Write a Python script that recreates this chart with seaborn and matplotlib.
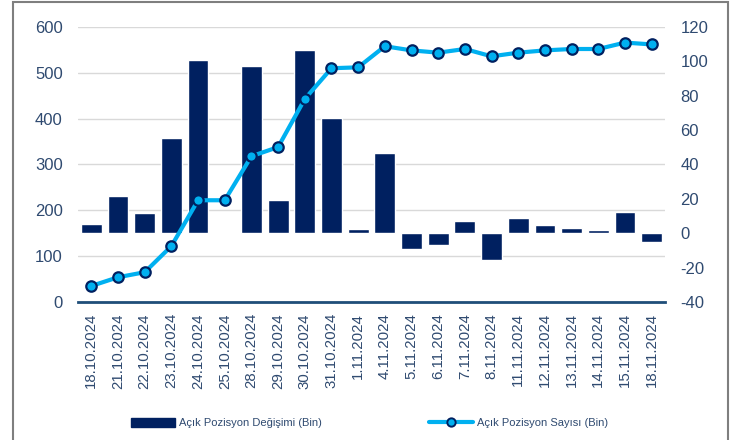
import numpy as np
import pandas as pd
import matplotlib
matplotlib.use("Agg")
import matplotlib.pyplot as plt
import seaborn as sns
from matplotlib.patches import Rectangle, Patch
from matplotlib.lines import Line2D

# === Dados ===
dates = ["18.10.2024", "21.10.2024", "22.10.2024", "23.10.2024", "24.10.2024",
         "25.10.2024", "28.10.2024", "29.10.2024", "30.10.2024", "31.10.2024",
         "1.11.2024", "4.11.2024", "5.11.2024", "6.11.2024", "7.11.2024",
         "8.11.2024", "11.11.2024", "12.11.2024", "13.11.2024", "14.11.2024",
         "15.11.2024", "18.11.2024"]
pos_change = [5.6, 21.4, 11.8, 55.3, 101.0, 0.0, 97.4, 19.3, 106.5, 67.2,
              2.7, 46.4, -8.9, -6.8, 7.3, -15.8, 8.7, 5.0, 2.9, 2.1, 12.6, -5.2]
pos_count = [35, 54, 65, 122, 222, 222, 318, 338, 443, 510,
             512, 558, 549, 544, 552, 536, 544, 549, 552, 552, 566, 562]

label_bar = "Açık Pozisyon Değişimi (Bin)"
label_line = "Açık Pozisyon Sayısı (Bin)"

df = pd.DataFrame({"date": dates, "change": pos_change, "count": pos_count})

navy = "#002060"
cyan = "#00B0F0"
txt = "#2F4A70"

sns.set_style("white")
plt.rcParams["font.family"] = ["Liberation Sans", "DejaVu Sans"]
plt.rcParams["axes.unicode_minus"] = False

fig = plt.figure(figsize=(7.46, 4.40), dpi=100)
ax1 = fig.add_axes([78 / 746, 1 - 302 / 440, (665 - 78) / 746, 275 / 440])

# eixo esquerdo: grelha e escala 0-600
ax1.set_ylim(0, 600)
ax1.set_yticks(range(0, 601, 100))
ax1.grid(axis="y", color="#D9D9D9", linewidth=1)
ax1.set_axisbelow(True)

# eixo direito: barras
ax2 = ax1.twinx()
sns.barplot(data=df, x="date", y="change", ax=ax2, color=navy,
            saturation=1, width=0.78, zorder=2)
ax2.set_ylim(-40, 120)
ax2.set_yticks(range(-40, 121, 20))

# linha por cima das barras, mesma escala do eixo esquerdo
ax3 = ax1.twinx()
sns.lineplot(data=df, x="date", y="count", ax=ax3, sort=False, color=cyan,
             linewidth=3, marker="o", markersize=7.5, markerfacecolor=cyan,
             markeredgecolor=navy, markeredgewidth=1.6, zorder=5)
ax3.set_ylim(0, 600)
ax3.set_yticks([])
ax3.set_xlim(-0.5, len(dates) - 0.5)

for a in (ax1, ax2, ax3):
    for s in a.spines.values():
        s.set_visible(False)
    a.set_xlabel("")
    a.set_ylabel("")
ax1.spines["bottom"].set_visible(True)
ax1.spines["bottom"].set_color("#1F4E79")
ax1.spines["bottom"].set_linewidth(2)

ax1.tick_params(axis="y", length=0, pad=11, labelsize=12, labelcolor=txt)
ax2.tick_params(axis="y", length=0, pad=11, labelsize=12, labelcolor=txt)
ax1.set_xlim(-0.5, len(dates) - 0.5)
ax1.set_xticks(range(len(dates)))
ax1.set_xticklabels(dates, rotation=90)
ax1.tick_params(axis="x", length=0, pad=8, labelsize=10.8, labelcolor=txt)
ax2.tick_params(axis="x", length=0, labelbottom=False)
ax3.tick_params(axis="x", length=0, labelbottom=False)

# legenda
h_bar = Patch(facecolor=navy, edgecolor=navy)
h_line = Line2D([], [], color=cyan, linewidth=3, marker="o", markersize=6,
                markerfacecolor=cyan, markeredgecolor=navy, markeredgewidth=1.4)
for h, lab, x0 in [(h_bar, label_bar, 131 / 746), (h_line, label_line, 429 / 746)]:
    fig.legend([h], [lab], loc="center left", bbox_to_anchor=(x0, 1 - 423 / 440),
               frameon=False, fontsize=8, handlelength=4.0, handleheight=0.9,
               handletextpad=0.3, borderpad=0, borderaxespad=0,
               labelcolor=txt)

# moldura
fig.add_artist(Rectangle((12.5 / 746, -0.1), (728 - 12.5) / 746, 1.1 - 2.5 / 440,
                         transform=fig.transFigure, fill=False,
                         edgecolor="#7F7F7F", linewidth=1.5))

fig.savefig("out.png", dpi=100)
